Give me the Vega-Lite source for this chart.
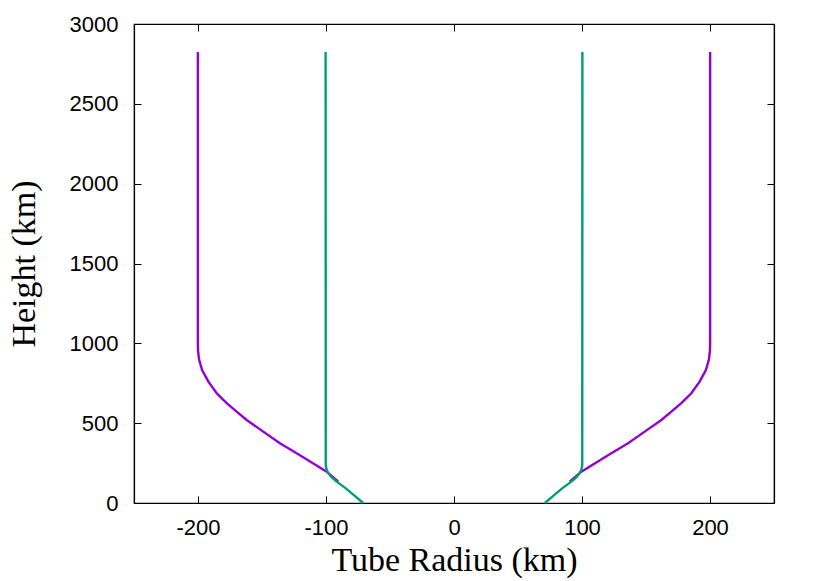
{
  "$schema": "https://vega.github.io/schema/vega-lite/v6.json",
  "autosize": {"type": "none"},
  "width": 640,
  "height": 479,
  "padding": {"left": 134, "top": 24, "right": 56, "bottom": 78},
  "background": "white",
  "view": {"stroke": "black", "strokeWidth": 1.2},
  "datasets": {
    "curves": [
      {"s": "outer", "side": "L", "r": -90.4, "h": 134},
      {"s": "outer", "side": "L", "r": -99.5, "h": 196},
      {"s": "outer", "side": "L", "r": -109.9, "h": 248},
      {"s": "outer", "side": "L", "r": -122.9, "h": 311},
      {"s": "outer", "side": "L", "r": -136, "h": 374},
      {"s": "outer", "side": "L", "r": -149, "h": 447},
      {"s": "outer", "side": "L", "r": -162, "h": 520},
      {"s": "outer", "side": "L", "r": -169.8, "h": 572},
      {"s": "outer", "side": "L", "r": -177.6, "h": 625},
      {"s": "outer", "side": "L", "r": -185.4, "h": 687},
      {"s": "outer", "side": "L", "r": -191.9, "h": 760},
      {"s": "outer", "side": "L", "r": -196.8, "h": 833},
      {"s": "outer", "side": "L", "r": -199.2, "h": 900},
      {"s": "outer", "side": "L", "r": -199.9, "h": 950},
      {"s": "outer", "side": "L", "r": -200.1, "h": 990},
      {"s": "outer", "side": "L", "r": -200.1, "h": 2825},
      {"s": "outer", "side": "R", "r": 90.4, "h": 134},
      {"s": "outer", "side": "R", "r": 99.5, "h": 196},
      {"s": "outer", "side": "R", "r": 109.9, "h": 248},
      {"s": "outer", "side": "R", "r": 122.9, "h": 311},
      {"s": "outer", "side": "R", "r": 136, "h": 374},
      {"s": "outer", "side": "R", "r": 149, "h": 447},
      {"s": "outer", "side": "R", "r": 162, "h": 520},
      {"s": "outer", "side": "R", "r": 169.8, "h": 572},
      {"s": "outer", "side": "R", "r": 177.6, "h": 625},
      {"s": "outer", "side": "R", "r": 185.4, "h": 687},
      {"s": "outer", "side": "R", "r": 191.9, "h": 760},
      {"s": "outer", "side": "R", "r": 196.8, "h": 833},
      {"s": "outer", "side": "R", "r": 199.2, "h": 900},
      {"s": "outer", "side": "R", "r": 199.9, "h": 950},
      {"s": "outer", "side": "R", "r": 200.1, "h": 990},
      {"s": "outer", "side": "R", "r": 200.1, "h": 2825},
      {"s": "inner", "side": "L", "r": -71, "h": 0},
      {"s": "inner", "side": "L", "r": -78, "h": 48},
      {"s": "inner", "side": "L", "r": -85, "h": 95},
      {"s": "inner", "side": "L", "r": -91.7, "h": 134},
      {"s": "inner", "side": "L", "r": -95.5, "h": 160},
      {"s": "inner", "side": "L", "r": -98.2, "h": 186},
      {"s": "inner", "side": "L", "r": -99.6, "h": 212},
      {"s": "inner", "side": "L", "r": -100.2, "h": 238},
      {"s": "inner", "side": "L", "r": -100.3, "h": 2825},
      {"s": "inner", "side": "R", "r": 71, "h": 0},
      {"s": "inner", "side": "R", "r": 78, "h": 48},
      {"s": "inner", "side": "R", "r": 85, "h": 95},
      {"s": "inner", "side": "R", "r": 91.7, "h": 134},
      {"s": "inner", "side": "R", "r": 95.5, "h": 160},
      {"s": "inner", "side": "R", "r": 98.2, "h": 186},
      {"s": "inner", "side": "R", "r": 99.6, "h": 212},
      {"s": "inner", "side": "R", "r": 100.2, "h": 238},
      {"s": "inner", "side": "R", "r": 100.3, "h": 2825}
    ]
  },
  "data": {"name": "curves"},
  "encoding": {
    "x": {"field": "r", "type": "quantitative", "scale": {"domain": [-250, 250], "nice": false, "zero": false}},
    "y": {"field": "h", "type": "quantitative", "scale": {"domain": [0, 3000], "nice": false}},
    "detail": {"field": "side"},
    "order": {"field": "h", "type": "quantitative"}
  },
  "layer": [
    {
      "transform": [{"filter": "datum.s === 'outer'"}],
      "mark": {"type": "line", "color": "#9400D3", "strokeWidth": 2.4},
      "encoding": {
        "x": {"field": "r", "type": "quantitative", "axis": {"orient": "bottom", "values": [-200, -100, 0, 100, 200], "labelExpr": "datum.value + ''", "title": "Tube Radius (km)", "grid": false, "domain": true, "domainColor": "black", "domainWidth": 1.2, "tickSize": -7, "tickColor": "black", "labelPadding": 21, "labelFont": "Liberation Sans", "labelFontSize": 22, "labelColor": "black", "titleFont": "Liberation Serif", "titleFontSize": 34, "titleFontWeight": "normal", "titleColor": "black", "titlePadding": 5}},
        "y": {"field": "h", "type": "quantitative", "axis": {"orient": "left", "values": [0, 500, 1000, 1500, 2000, 2500, 3000], "labelExpr": "datum.value + ''", "title": "Height (km)", "grid": false, "domain": true, "domainColor": "black", "domainWidth": 1.2, "tickSize": -7, "tickColor": "black", "labelPadding": 23, "labelFont": "Liberation Sans", "labelFontSize": 22, "labelColor": "black", "labelBaseline": "middle", "titleFont": "Liberation Serif", "titleFontSize": 34, "titleFontWeight": "normal", "titleColor": "black", "titlePadding": 28}}
      }
    },
    {
      "transform": [{"filter": "datum.s === 'inner'"}],
      "mark": {"type": "line", "color": "#009E73", "strokeWidth": 2.4},
      "encoding": {
        "x": {"field": "r", "type": "quantitative", "axis": {"orient": "top", "values": [-200, -100, 0, 100, 200], "title": null, "labels": false, "grid": false, "domain": true, "domainColor": "black", "domainWidth": 1.2, "tickSize": -7, "tickColor": "black"}},
        "y": {"field": "h", "type": "quantitative", "axis": {"orient": "right", "values": [0, 500, 1000, 1500, 2000, 2500, 3000], "title": null, "labels": false, "grid": false, "domain": true, "domainColor": "black", "domainWidth": 1.2, "tickSize": -7, "tickColor": "black"}}
      }
    }
  ],
  "resolve": {"axis": {"x": "independent", "y": "independent"}}
}
